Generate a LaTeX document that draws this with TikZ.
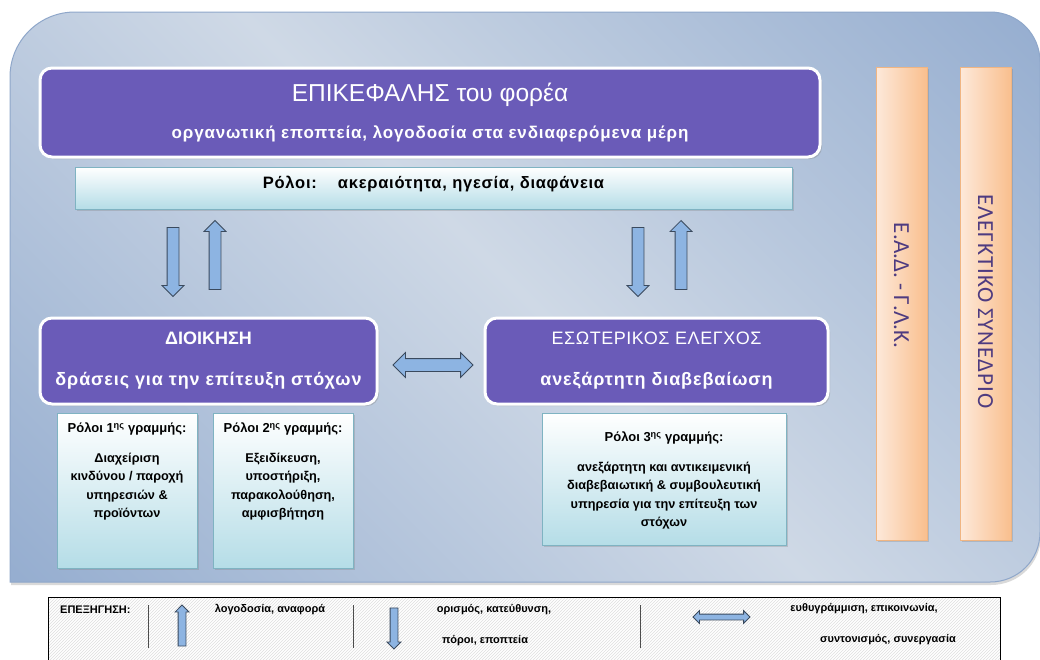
\documentclass[tikz,border=0pt]{standalone}
\usepackage{fontspec}
\setmainfont{Liberation Sans}
\newfontfamily\barfont{Carlito}
\usepackage{tikz}
\usetikzlibrary{
  shapes.arrows,
  shadows,
  patterns,
  positioning}

\definecolor{PanelLight}{HTML}{CFD9E6}
\definecolor{PanelDark}{HTML}{96AED0}
\definecolor{PanelEdge}{HTML}{8FA7CA}
\definecolor{HeadFill}{HTML}{6A5BB8}
\definecolor{RoleCyan}{HTML}{B5DDE7}
\definecolor{RoleEdge}{HTML}{7FB3C2}
\definecolor{BarLight}{HTML}{FDE9DA}
\definecolor{BarDark}{HTML}{F9BF8E}
\definecolor{BarText}{HTML}{4E3B80}
\definecolor{ArrowFill}{HTML}{8DB4E2}
\definecolor{ArrowEdge}{HTML}{3A4A5E}

\pgfdeclarehorizontalshading{panelshade}{100bp}{
  color(0bp)=(PanelDark); color(15bp)=(PanelDark); color(50bp)=(PanelLight);
  color(85bp)=(PanelDark); color(100bp)=(PanelDark)}

\begin{document}
\begin{tikzpicture}[x=1pt, y=-1pt]
\tikzset{
  headbox/.style={
    rounded corners=12pt, fill=HeadFill, draw=white, line width=3pt,
    text=white, align=center, font=\fontsize{17}{20}\selectfont,
    drop shadow={opacity=0.35, shadow xshift=2pt, shadow yshift=-2pt}},
  rolebar/.style={
    top color=white, bottom color=RoleCyan, draw=RoleEdge, line width=0.6pt,
    drop shadow={opacity=0.3, shadow xshift=1.5pt, shadow yshift=-1.5pt}},
  roletext/.style={
    inner sep=0pt, align=center, font=\fontsize{12.7}{18.5}\selectfont\bfseries},
  barbox/.style={
    left color=BarLight, right color=BarDark, draw=BarDark!85!brown, line width=0.6pt,
    drop shadow={opacity=0.3, shadow xshift=1.5pt, shadow yshift=-1.5pt}},
  bartext/.style={
    rotate=-90, text=BarText, font=\barfont\fontsize{23}{26}\selectfont},
  blockarrow/.style={
    draw=ArrowEdge, fill=ArrowFill, line width=0.8pt, minimum width=0pt},
  blockdown/.style={
    blockarrow, single arrow, shape border rotate=270, inner xsep=5.5pt,
    inner ysep=0pt, single arrow head extend=5pt, minimum height=69pt},
  blockup/.style={
    blockarrow, single arrow, shape border rotate=90, inner xsep=5.5pt,
    inner ysep=0pt, single arrow head extend=5pt, minimum height=69pt},
  blockboth/.style={
    blockarrow, double arrow, inner xsep=0pt, inner ysep=6pt,
    double arrow head extend=6pt, minimum height=80pt},
  legendbox/.style={
    draw=black, line width=0.8pt, preaction={fill=white},
    pattern=north east lines, pattern color=gray!25},
  legendtext/.style={
    inner sep=0pt, font=\fontsize{11}{13}\selectfont\bfseries},
  legendsep/.style={draw=black!70, line width=0.8pt}
}
\useasboundingbox (0,0) rectangle (1040,659);
\clip (0,0) rectangle (1040,659);

\draw[
  draw=PanelEdge,
  line width=1pt,
  shade,
  shading=panelshade,
  shading angle=45,
  drop shadow={opacity=0.3, shadow xshift=1pt, shadow yshift=-3pt}
] (10,582) -- (10,77) .. controls (10,41) and (39,12) .. (75,12)
  -- (990,12) .. controls (1018,12) and (1040,34) .. (1040,62)
  -- (1040,532) .. controls (1040,560) and (1018,582) .. (990,582) -- cycle;

\node[headbox, minimum width=780pt, minimum height=89pt] (head) at (430,112.5)
  {{\fontsize{24.5}{28}\selectfont ΕΠΙΚΕΦΑΛΗΣ του φορέα}\\[17pt]
   {\bfseries\addfontfeature{LetterSpace=5}οργανωτική εποπτεία, λογοδοσία στα ενδιαφερόμενα μέρη}};
\node[rolebar, minimum width=717pt, minimum height=42pt, text depth=12pt,
  font=\fontsize{16.5}{18}\selectfont\bfseries\addfontfeature{LetterSpace=4.5}] (roles) at (433.5,188)
  {Ρόλοι:\hspace{14pt} ακεραιότητα, ηγεσία, διαφάνεια};

\node[headbox, minimum width=337pt, minimum height=86pt,
  font=\fontsize{18}{20}\selectfont\bfseries] (admin) at (208.5,361)
  {ΔΙΟΙΚΗΣΗ\\[21pt]{\addfontfeature{LetterSpace=5}δράσεις για την επίτευξη στόχων}};
\node[headbox, minimum width=343pt, minimum height=86pt,
  font=\fontsize{18}{20}\selectfont] (audit) at (656.5,361)
  {{\addfontfeature{LetterSpace=3}ΕΣΩΤΕΡΙΚΟΣ ΕΛΕΓΧΟΣ}\\[21pt]
   {\bfseries\addfontfeature{LetterSpace=5}ανεξάρτητη διαβεβαίωση}};

\node[rolebar, minimum width=140pt, minimum height=155pt] (line1) at (127,490.5) {};
\node[rolebar, minimum width=140pt, minimum height=155pt] (line2) at (283,490.5) {};
\node[rolebar, minimum width=244pt, minimum height=132pt] (line3) at (664,479) {};
\node[roletext, below=10pt of line1.north] (line1txt)
  {{\fontsize{13}{14}\selectfont Ρόλοι 1\textsuperscript{ης} γραμμής:}\\[11pt]
   Διαχείριση\\κινδύνου / παροχή\\υπηρεσιών \&\\προϊόντων};
\node[roletext, below=10pt of line2.north] (line2txt)
  {{\fontsize{13}{14}\selectfont Ρόλοι 2\textsuperscript{ης} γραμμής:}\\[11pt]
   Εξειδίκευση,\\υποστήριξη,\\παρακολούθηση,\\αμφισβήτηση};
\node[roletext, below=19pt of line3.north] (line3txt)
  {{\fontsize{13}{14}\selectfont Ρόλοι 3\textsuperscript{ης} γραμμής:}\\[11pt]
   ανεξάρτητη και αντικειμενική\\διαβεβαιωτική \& συμβουλευτική\\
   υπηρεσία για την επίτευξη των\\στόχων};

\node[blockdown] (dnA) at (173,259) {};
\node[blockup] (upA) at (215,258) {};
\node[blockdown] (dnB) at (638,259) {};
\node[blockup] (upB) at (681,258) {};
\node[blockboth] (link) at (433,365) {};

\node[barbox, minimum width=51pt, minimum height=473pt] (ead) at (901.5,303.5) {};
\node[barbox, minimum width=51pt, minimum height=473pt] (court) at (985.5,303.5) {};
\node[bartext] at ([yshift=18pt]ead.center) {Ε.Α.Δ. - Γ.Λ.Κ.};
\node[bartext] at ([yshift=2pt]court.center)
  {\addfontfeature{LetterSpace=4}ΕΛΕΓΚΤΙΚΟ ΣΥΝΕΔΡΙΟ};

\node[legendbox, minimum width=952pt, minimum height=70pt] (legend) at (524,632) {};
\draw[legendsep] (148,605) -- (148,648);
\draw[legendsep] (353,605) -- (353,648);
\draw[legendsep] (640,605) -- (640,648);
\node[legendtext, anchor=west] (keyword) at (60,610) {ΕΠΕΞΗΓΗΣΗ:};
\node[blockup, minimum height=41pt, inner xsep=3.5pt, single arrow head extend=3pt]
  (keyup) at (182,627.5) {};
\node[legendtext] (keyupA) at (270,610) {λογοδοσία, αναφορά};
\node[blockdown, minimum height=41pt, inner xsep=3.5pt, single arrow head extend=3pt]
  (keydn) at (394,626.5) {};
\node[legendtext] (keydnA) at (494,610) {ορισμός, κατεύθυνση,};
\node[legendtext] (keydnB) at (485,641) {πόροι, εποπτεία};
\node[blockboth, minimum height=57pt, inner ysep=2.5pt, double arrow head extend=3.5pt]
  (keyboth) at (721.5,617) {};
\node[legendtext] (keybothA) at (864,609) {ευθυγράμμιση, επικοινωνία,};
\node[legendtext] (keybothB) at (888,640) {συντονισμός, συνεργασία};
\end{tikzpicture}
\end{document}
